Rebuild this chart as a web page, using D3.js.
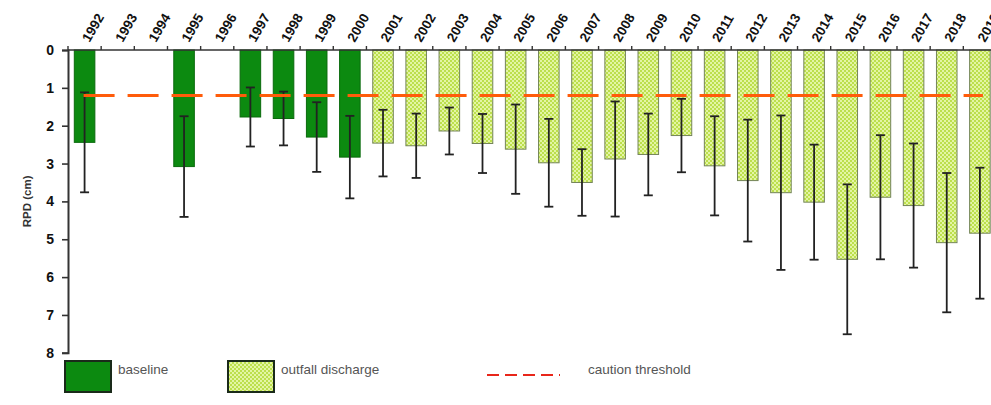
<!DOCTYPE html>
<html>
<head>
<meta charset="utf-8">
<script src="https://cdn.jsdelivr.net/npm/d3@7/dist/d3.min.js"></script>
<style>
  html, body { margin: 0; padding: 0; background: #fff; }
  svg { display: block; font-family: "Liberation Sans", Arial, sans-serif; }
</style>
</head>
<body>
<svg id="chart" width="991" height="405"></svg>
<script>
// Survey years, 1992–2019
const years = ["1992","1993","1994","1995","1996","1997","1998","1999","2000",
  "2001","2002","2003","2004","2005","2006","2007","2008","2009","2010",
  "2011","2012","2013","2014","2015","2016","2017","2018","2019"];

// Mean RPD depth (cm) per year; null where no survey was made
const rpdMean = [2.44, null, null, 3.08, null, 1.77, 1.81, 2.30, 2.83,
  2.46, 2.53, 2.14, 2.47, 2.62, 2.98, 3.50, 2.88, 2.76, 2.26,
  3.06, 3.45, 3.77, 4.02, 5.53, 3.89, 4.11, 5.09, 4.84];

// Standard deviation (cm) drawn as error bars
const rpdErr = [1.32, null, null, 1.33, null, 0.78, 0.71, 0.92, 1.09,
  0.88, 0.85, 0.62, 0.78, 1.18, 1.16, 0.88, 1.52, 1.08, 0.97,
  1.31, 1.61, 2.04, 1.52, 1.98, 1.64, 1.64, 1.84, 1.73];

// Monitoring period of each year
const period = ["baseline","baseline","baseline","baseline","baseline","baseline","baseline","baseline","baseline",
  "outfall","outfall","outfall","outfall","outfall","outfall","outfall","outfall","outfall","outfall",
  "outfall","outfall","outfall","outfall","outfall","outfall","outfall","outfall","outfall"];

const yTicks = [0, 1, 2, 3, 4, 5, 6, 7, 8];
const cautionThreshold = 1.2;

const legendItems = ["baseline", "outfall discharge", "caution threshold"];

const svg = d3.select("#chart");

// pattern for the outfall-discharge bars
const defs = svg.append("defs");
const pat = defs.append("pattern")
  .attr("id", "checker")
  .attr("patternUnits", "userSpaceOnUse")
  .attr("width", 4).attr("height", 4);
pat.append("rect").attr("width", 4).attr("height", 4).attr("fill", "#bcdf4c");
pat.append("rect").attr("x", 0).attr("y", 0).attr("width", 2).attr("height", 2).attr("fill", "#e3f5a4");
pat.append("rect").attr("x", 2).attr("y", 2).attr("width", 2).attr("height", 2).attr("fill", "#e3f5a4");

const x0 = 68, step = 33.16;
const x = d3.scaleBand()
  .domain(years)
  .range([x0, x0 + step * years.length])
  .paddingInner(0.38)
  .paddingOuter(0.19);

const y = d3.scaleLinear().domain([0, 8]).range([50, 352.8]);

const rows = years.map((yr, i) => ({ year: yr, mean: rpdMean[i], err: rpdErr[i], period: period[i] }))
  .filter(d => d.mean != null);

// bars hang down from the top axis
svg.append("g").selectAll("rect")
  .data(rows)
  .join("rect")
  .attr("x", d => x(d.year))
  .attr("y", y(0))
  .attr("width", x.bandwidth())
  .attr("height", d => y(d.mean) - y(0))
  .attr("fill", d => d.period === "baseline" ? "#0c8a10" : "url(#checker)")
  .attr("stroke", d => d.period === "baseline" ? "#0a6a0c" : "#74845a")
  .attr("stroke-width", 1);

// error bars
const eb = svg.append("g").attr("stroke", "#222").attr("stroke-width", 1.8);
const capW = 4.5;
rows.forEach(d => {
  const cx = x(d.year) + x.bandwidth() / 2;
  const top = y(d.mean - d.err), bot = y(d.mean + d.err);
  eb.append("line").attr("x1", cx).attr("x2", cx).attr("y1", top).attr("y2", bot);
  eb.append("line").attr("x1", cx - capW).attr("x2", cx + capW).attr("y1", top).attr("y2", top);
  eb.append("line").attr("x1", cx - capW).attr("x2", cx + capW).attr("y1", bot).attr("y2", bot);
});

// caution threshold
const firstC = x(years[0]) + x.bandwidth() / 2;
const lastC = x(years[years.length - 1]) + x.bandwidth() / 2;
svg.append("line")
  .attr("x1", firstC - 1).attr("x2", lastC + 3)
  .attr("y1", y(cautionThreshold)).attr("y2", y(cautionThreshold))
  .attr("stroke", "#ff5c0a")
  .attr("stroke-width", 3)
  .attr("stroke-dasharray", "31,13");

// top category axis with ticks at band edges
const topAxis = svg.append("g");
topAxis.append("line")
  .attr("x1", x0).attr("x2", x0 + step * years.length)
  .attr("y1", y(0)).attr("y2", y(0))
  .attr("stroke", "#333").attr("stroke-width", 1.6);
topAxis.selectAll("line.tk")
  .data(d3.range(years.length + 1))
  .join("line").attr("class", "tk")
  .attr("x1", i => x0 + i * step).attr("x2", i => x0 + i * step)
  .attr("y1", y(0) - 4).attr("y2", y(0))
  .attr("stroke", "#333").attr("stroke-width", 1.4);
topAxis.selectAll("text")
  .data(years)
  .join("text")
  .attr("transform", d => `translate(${x(d) + x.bandwidth() / 2 + 5},${y(0) - 7}) rotate(-60)`)
  .attr("text-anchor", "start")
  .attr("font-size", 13.5)
  .attr("font-weight", "bold")
  .attr("fill", "#111")
  .text(d => d);

// depth axis
const yAxis = svg.append("g")
  .attr("transform", `translate(${x0},0)`)
  .call(d3.axisLeft(y).tickValues(yTicks).tickFormat(d3.format("d")).tickSize(6).tickPadding(8));
yAxis.select(".domain").attr("stroke", "#333").attr("stroke-width", 2);
yAxis.selectAll(".tick line").attr("stroke", "#333").attr("stroke-width", 1.6);
yAxis.selectAll(".tick text")
  .attr("font-size", 14).attr("font-weight", "bold").attr("fill", "#111")
  .attr("font-family", "Liberation Sans, Arial, sans-serif");

svg.append("text")
  .attr("transform", `translate(31,${(y(0) + y(8)) / 2}) rotate(-90)`)
  .attr("text-anchor", "middle")
  .attr("font-size", 11.5)
  .attr("font-weight", "bold")
  .attr("fill", "#333")
  .text("RPD (cm)");

// legend
const lg = svg.append("g");
lg.append("rect").attr("x", 65).attr("y", 361).attr("width", 46).attr("height", 31)
  .attr("fill", "#0c8a10").attr("stroke", "#1a2a1a").attr("stroke-width", 2);
lg.append("text").attr("x", 118).attr("y", 374).attr("font-size", 13.5).attr("fill", "#555").text(legendItems[0]);
lg.append("rect").attr("x", 228).attr("y", 361).attr("width", 46).attr("height", 31)
  .attr("fill", "url(#checker)").attr("stroke", "#1a2a1a").attr("stroke-width", 2);
lg.append("text").attr("x", 281).attr("y", 374).attr("font-size", 13.5).attr("fill", "#555").text(legendItems[1]);
lg.append("line").attr("x1", 487).attr("x2", 560).attr("y1", 375).attr("y2", 375)
  .attr("stroke", "#e8261a").attr("stroke-width", 2).attr("stroke-dasharray", "12,6");
lg.append("text").attr("x", 588).attr("y", 374).attr("font-size", 13.5).attr("fill", "#555").text(legendItems[2]);
</script>
</body>
</html>
